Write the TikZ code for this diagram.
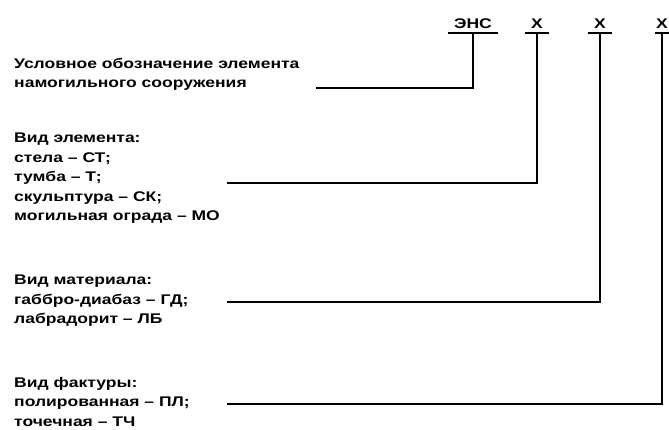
\documentclass[tikz,border=0pt]{standalone}
\usepackage{fontspec}
\newfontfamily\gostfont[FakeStretch=1.25]{Liberation Sans}
\usetikzlibrary{positioning}

\begin{document}
\begin{tikzpicture}[x=1pt, y=-1pt,
every node/.style = {shape=rectangle, align=left, color=black, inner sep=0pt},
txt/.style = {anchor=north west, font=\gostfont\bfseries\fontsize{14}{19.5}\selectfont},
hdr/.style = {anchor=south, inner ysep=4pt, font=\gostfont\bfseries\fontsize{14}{16}\selectfont},
bar/.style = {draw, line width=2.6pt},
conn/.style = {draw, line width=2.6pt}]
%
\useasboundingbox (0,0) rectangle (669,430);
% header
\node[hdr, minimum width=50pt] (ens) at (473,33) {ЭНС};
\node[hdr, minimum width=24pt] (xa) at (537,33) {Х};
\node[hdr, minimum width=24pt] (xb) at (600,33) {Х};
\node[hdr, minimum width=14pt] (xc) at (662,33) {Х};
\foreach \n in {ens, xa, xb, xc}
	\draw[bar] (\n.south west) -- (\n.south east);
% texts
\node[txt] (cond) at (14,58) {Условное обозначение элемента\\намогильного сооружения};
\node[txt] (elem) at (14,133) {Вид элемента:\\стела – СТ;\\тумба – Т;\\скульптура – СК;\\могильная ограда – МО};
\node[txt] (mat) at (14,275) {Вид материала:\\габбро-диабаз – ГД;\\лабрадорит – ЛБ};
\node[txt] (fact) at (14,377) {Вид фактуры:\\полированная – ПЛ;\\точечная – ТЧ};
% line ends
\coordinate (cond end) at (316,88);
\coordinate (elem end) at (227,183);
\coordinate (mat end) at (227,302);
\coordinate (fact end) at (227,404);
% connectors
\draw[conn] (ens.south) |- (cond end);
\draw[conn] (xa.south) |- (elem end);
\draw[conn] (xb.south) |- (mat end);
\draw[conn] (xc.south) |- (fact end);
\end{tikzpicture}
\end{document}
